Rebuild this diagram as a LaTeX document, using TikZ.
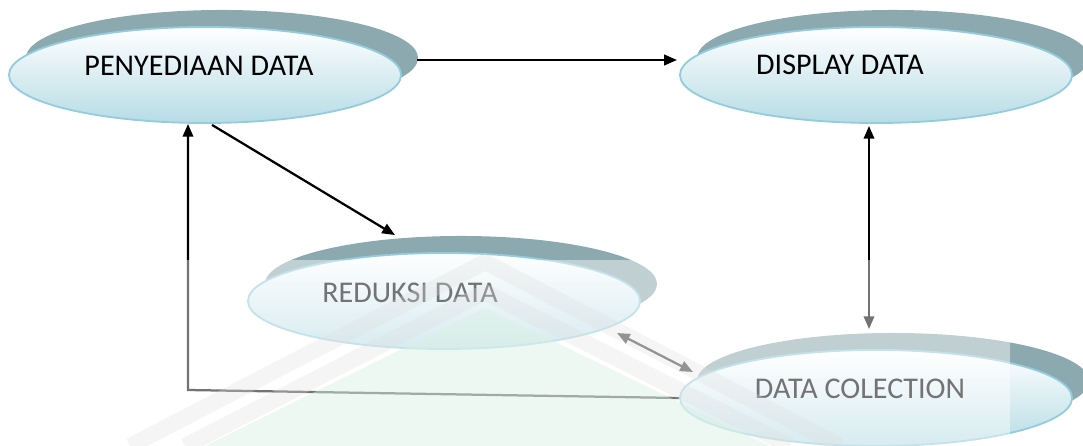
\documentclass[tikz,border=0pt]{standalone}
\usepackage{fontspec}
\setmainfont{Carlito}
\usepackage{tikz}
\usetikzlibrary{shapes.geometric,shadows,calc,arrows.meta}

\definecolor{rim}{HTML}{93CDDD}
\definecolor{bluebot}{HTML}{B7DCE5}
\definecolor{shadowgrey}{HTML}{8BA9AE}
\definecolor{leafgreen}{HTML}{D9F0E2}

\tikzset{
  oval/.style={ellipse, draw=rim, line width=1.3pt, top color=white, bottom color=bluebot,
    minimum width=9.8cm, minimum height=2.4cm,
    copy shadow={shadow xshift=0.425cm, shadow yshift=0.425cm, fill=shadowgrey, draw=none}},
  lbl/.style={font=\fontsize{21.4}{25}\selectfont},
  conn/.style={line width=1.6pt, >={Triangle[length=0.32cm,width=0.26cm]}}
}

\begin{document}
\begin{tikzpicture}[x=0.025cm, y=-0.025cm]
    \useasboundingbox (0,0) rectangle (1083,446);

    \node[oval] (peny) at (205,75) {};
    \node[oval] (display) at (876,75) {};
    \node[oval] (reduksi) at (444,301) {};
    \node[oval] (coll) at (876,398) {};
    \coordinate (bend) at (188,390);

    \draw[conn,->] ($(peny.east)+(15,-15)$) -- ($(display.west)+(-2,-15)$);
    \draw[conn,->] ($(peny.south)+(7,1)$) -- ($(reduksi.north)+(-49,-17)$);
    \draw[conn,->] (coll.west) -- (bend) -- (bend |- peny.south);
    \draw[conn,<->] ($(reduksi.center)+(173,32)$) -- ($(coll.center)+(-183,-26)$);
    \draw[conn,<->] ($(display.south)+(-7,2)$) -- ($(coll.north)+(-7,-20)$);

%labels
    \node[lbl] (penytxt) at (199,66) {PENYEDIAAN DATA};
    \node[lbl] (displaytxt) at (840,65) {DISPLAY DATA};
    \node[lbl] (reduksitxt) at (410,293) {REDUKSI DATA};
    \node[lbl] (colltxt) at (860,389) {DATA COLECTION};

    % faded lower band with the logo over it
    \fill[white, opacity=0.45] (120,260) rectangle (1010,446);
    \fill[leafgreen, opacity=0.45] (205,446) -- (485,308) -- (770,446) -- cycle;
    \draw[gray!25, opacity=0.3, line width=0.4cm] (130,446) -- (485,262) -- (840,446);
    \draw[gray!25, opacity=0.3, line width=0.4cm] (185,446) -- (485,292) -- (790,446);

\end{tikzpicture}
\end{document}
